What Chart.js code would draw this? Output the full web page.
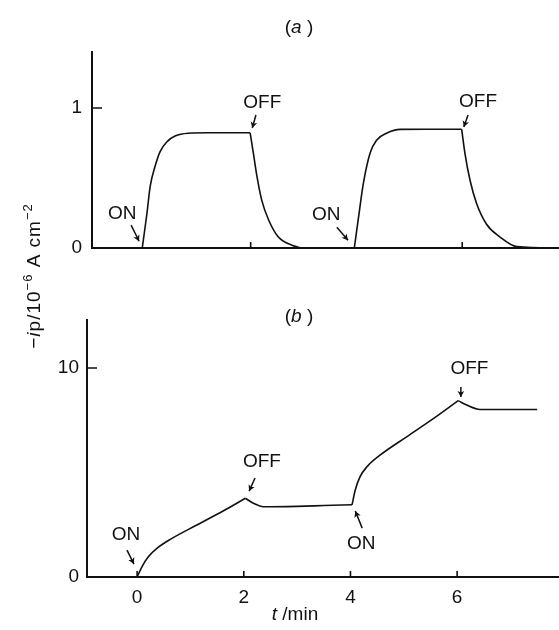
<!DOCTYPE html>
<html>
<head>
<meta charset="utf-8">
<script src="https://cdn.jsdelivr.net/npm/chart.js@4.4.1/dist/chart.umd.min.js"></script>
<style>
  html, body { margin: 0; padding: 0; background: #fff; }
  #wrap { position: relative; width: 559px; height: 630px; }
  #wrap canvas { position: absolute; left: 0; top: 0; }
</style>
</head>
<body>
<div id="wrap">
  <canvas id="panelA" width="559" height="630"></canvas>
  <canvas id="panelB" width="559" height="630"></canvas>
</div>
<script>
// panel (a): photocurrent, light switched ON / OFF (t in min, -ip in 1e-6 A cm-2)
const timeA = [-1.0, -0.05, 0.04, 0.10, 0.19, 0.29, 0.42, 0.57, 0.82, 1.20, 1.60, 1.99,
  2.05, 2.12, 2.21, 2.34, 2.52, 2.78, 3.03, 3.50, 3.96,
  4.04, 4.13, 4.26, 4.38, 4.57, 4.83, 5.30, 5.99,
  6.05, 6.15, 6.27, 6.46, 6.71, 7.03, 7.83];
const currentA = [0, 0, 0.25, 0.44, 0.58, 0.69, 0.76, 0.80, 0.82, 0.823, 0.823, 0.823,
  0.68, 0.51, 0.34, 0.20, 0.08, 0.02, 0, 0, 0,
  0.22, 0.46, 0.68, 0.77, 0.82, 0.847, 0.848, 0.848,
  0.68, 0.48, 0.32, 0.17, 0.08, 0.01, 0];
const switchA = [-0.05, 1.99, 3.96, 5.99];
const xTicksA = [2, 6];
const yTicksA = [0, 1];

// panel (b)
const timeB = [-0.94, 0, 0.09, 0.21, 0.37, 0.62, 1.12, 1.62, 2.03,
  2.18, 2.37, 2.99, 3.50, 4.03,
  4.09, 4.18, 4.31, 4.56, 5.06, 5.56, 6.02,
  6.18, 6.43, 6.93, 7.50];
const currentB = [0, 0, 0.49, 0.97, 1.37, 1.80, 2.49, 3.17, 3.77,
  3.53, 3.36, 3.38, 3.42, 3.46,
  4.16, 4.80, 5.28, 5.84, 6.72, 7.59, 8.44,
  8.23, 8.02, 8.02, 8.02];
const switchB = [0, 2.03, 4.03, 6.02];
const xTicksB = [0, 2, 4, 6];
const yTicksB = [0, 10];

// ON/OFF markers: label point and arrow (tail -> head), in data units
const notesA = [
  { text: 'ON', at: [-0.43, 0.248], arrow: [[-0.26, 0.163], [-0.11, 0.048]] },
  { text: 'OFF', at: [2.22, 1.036], arrow: [[2.10, 0.950], [2.03, 0.857]] },
  { text: 'ON', at: [3.43, 0.234], arrow: [[3.63, 0.148], [3.84, 0.055]] },
  { text: 'OFF', at: [6.30, 1.043], arrow: [[6.11, 0.950], [6.03, 0.864]] },
];
const notesB = [
  { text: 'ON', at: [-0.21, 2.01], arrow: [[-0.19, 1.29], [-0.06, 0.62]] },
  { text: 'OFF', at: [2.34, 5.50], arrow: [[2.21, 4.74], [2.10, 4.11]] },
  { text: 'ON', at: [4.20, 1.58], arrow: [[4.22, 2.34], [4.09, 3.16]] },
  { text: 'OFF', at: [6.23, 9.95], arrow: [[6.07, 9.09], [6.07, 8.61]] },
];

const INK = '#111';
const FONT = '"Liberation Sans", Arial, sans-serif';
const SIZE = 19;

// cut one trace into pieces at the switching times so the corners stay sharp
function pieces(xs, ys, cuts) {
  const out = [[]];
  xs.forEach((t, i) => {
    out[out.length - 1].push({ x: t, y: ys[i] });
    if (cuts.includes(t)) out.push([{ x: t, y: ys[i] }]);
  });
  return out.filter(p => p.length > 1);
}

// draw a run of text pieces, some italic, some raised
function richText(ctx, parts, x, y) {
  const w = parts.map(p => {
    ctx.font = (p.italic ? 'italic ' : '') + (p.sup ? 13 : SIZE) + 'px ' + FONT;
    return ctx.measureText(p.text).width;
  });
  let cx = x - w.reduce((a, b) => a + b, 0) / 2;
  parts.forEach((p, i) => {
    ctx.font = (p.italic ? 'italic ' : '') + (p.sup ? 13 : SIZE) + 'px ' + FONT;
    ctx.fillText(p.text, cx, p.sup ? y - 8 : y);
    cx += w[i];
  });
}

// short tick marks pointing into the plot
const innerTicks = {
  id: 'innerTicks',
  afterDraw(chart, args, opts) {
    const { ctx, chartArea } = chart;
    const { x, y } = chart.scales;
    ctx.save();
    ctx.strokeStyle = INK;
    ctx.lineWidth = 1.6;
    ctx.beginPath();
    opts.xTicks.forEach(v => {
      const px = x.getPixelForValue(v);
      ctx.moveTo(px, chartArea.bottom);
      ctx.lineTo(px, chartArea.bottom - 6);
    });
    opts.yTicks.filter(v => v !== 0).forEach(v => {
      const py = y.getPixelForValue(v);
      ctx.moveTo(chartArea.left, py);
      ctx.lineTo(chartArea.left + 10, py);
    });
    ctx.stroke();
    ctx.restore();
  }
};

// ON / OFF labels with arrows, panel letter and axis titles
const notes = {
  id: 'notes',
  afterDraw(chart, args, opts) {
    const { ctx } = chart;
    const { x, y } = chart.scales;
    ctx.save();
    ctx.fillStyle = INK;
    ctx.strokeStyle = INK;
    ctx.lineWidth = 1.5;
    ctx.textBaseline = 'middle';
    opts.items.forEach(n => {
      ctx.font = SIZE + 'px ' + FONT;
      ctx.textAlign = 'center';
      ctx.fillText(n.text, x.getPixelForValue(n.at[0]), y.getPixelForValue(n.at[1]));
      ctx.textAlign = 'left';
      const x0 = x.getPixelForValue(n.arrow[0][0]), y0 = y.getPixelForValue(n.arrow[0][1]);
      const x1 = x.getPixelForValue(n.arrow[1][0]), y1 = y.getPixelForValue(n.arrow[1][1]);
      const a = Math.atan2(y1 - y0, x1 - x0);
      ctx.beginPath();
      ctx.moveTo(x0, y0);
      ctx.lineTo(x1, y1);
      ctx.stroke();
      ctx.beginPath();
      ctx.moveTo(x1, y1);
      ctx.lineTo(x1 - 7 * Math.cos(a - 0.5), y1 - 7 * Math.sin(a - 0.5));
      ctx.lineTo(x1 - 4.5 * Math.cos(a), y1 - 4.5 * Math.sin(a));
      ctx.lineTo(x1 - 7 * Math.cos(a + 0.5), y1 - 7 * Math.sin(a + 0.5));
      ctx.closePath();
      ctx.fill();
    });
    ctx.textAlign = 'left';
    ctx.textBaseline = 'alphabetic';
    richText(ctx, [{ text: '(' }, { text: opts.letter, italic: true }, { text: ' )' }], 299, opts.letterY);
    ctx.restore();
    if (opts.extra) opts.extra(ctx);
  }
};

function panel(id, xs, ys, cfg) {
  return new Chart(document.getElementById(id), {
    type: 'line',
    data: {
      datasets: pieces(xs, ys, cfg.cuts).map(pts => ({
        data: pts,
        borderColor: INK,
        borderWidth: 1.6,
        pointRadius: 0,
        cubicInterpolationMode: 'monotone',
        fill: false,
      }))
    },
    options: {
      responsive: false,
      animation: false,
      events: [],
      layout: { padding: { top: cfg.top, left: 0, right: 0, bottom: 0 } },
      plugins: {
        legend: { display: false },
        tooltip: { enabled: false },
        innerTicks: { xTicks: cfg.xTicks, yTicks: cfg.yTicks },
        notes: { items: cfg.notes, letter: cfg.letter, letterY: cfg.letterY, extra: cfg.extra },
      },
      scales: {
        x: {
          type: 'linear',
          min: cfg.xMin,
          max: cfg.xMax,
          afterFit: s => { s.height = cfg.xHeight; },
          afterBuildTicks: s => { s.ticks = cfg.xTicks.map(v => ({ value: v })); },
          grid: { display: false, drawTicks: false },
          border: { display: true, color: INK, width: 2 },
          ticks: { display: cfg.xLabels, color: INK, padding: 9, font: { family: FONT, size: SIZE } },
        },
        y: {
          type: 'linear',
          min: 0,
          max: cfg.yMax,
          afterFit: s => { s.width = cfg.yWidth; },
          afterBuildTicks: s => { s.ticks = cfg.yTicks.map(v => ({ value: v })); },
          grid: { display: false, drawTicks: false },
          border: { display: true, color: INK, width: 2 },
          ticks: { color: INK, padding: cfg.yPad, font: { family: FONT, size: SIZE } },
        }
      }
    },
    plugins: [innerTicks, notes]
  });
}

panel('panelA', timeA, currentA, {
  top: 52, xHeight: 382, yWidth: 92, xMin: -1.0, xMax: 7.83, yMax: 1.4,
  xTicks: xTicksA, yTicks: yTicksA, xLabels: false, yPad: 10, cuts: switchA,
  notes: notesA, letter: 'a', letterY: 33,
});

panel('panelB', timeB, currentB, {
  top: 320, xHeight: 53, yWidth: 87, xMin: -0.94, xMax: 7.91, yMax: 12.3,
  xTicks: xTicksB, yTicks: yTicksB, xLabels: true, yPad: 8, cuts: switchB,
  notes: notesB, letter: 'b', letterY: 322,
  extra: ctx => {
    ctx.save();
    ctx.fillStyle = INK;
    ctx.textBaseline = 'alphabetic';
    // x title
    richText(ctx, [{ text: 't', italic: true }, { text: ' /min' }], 295, 620);
    // shared y title
    ctx.translate(40, 276);
    ctx.rotate(-Math.PI / 2);
    ctx.letterSpacing = '1px';
    richText(ctx, [
      { text: '−' }, { text: 'i', italic: true }, { text: 'p/10' }, { text: '−6', sup: true },
      { text: ' A cm' }, { text: '−2', sup: true }
    ], 0, 0);
    ctx.restore();
  }
});
</script>
</body>
</html>
